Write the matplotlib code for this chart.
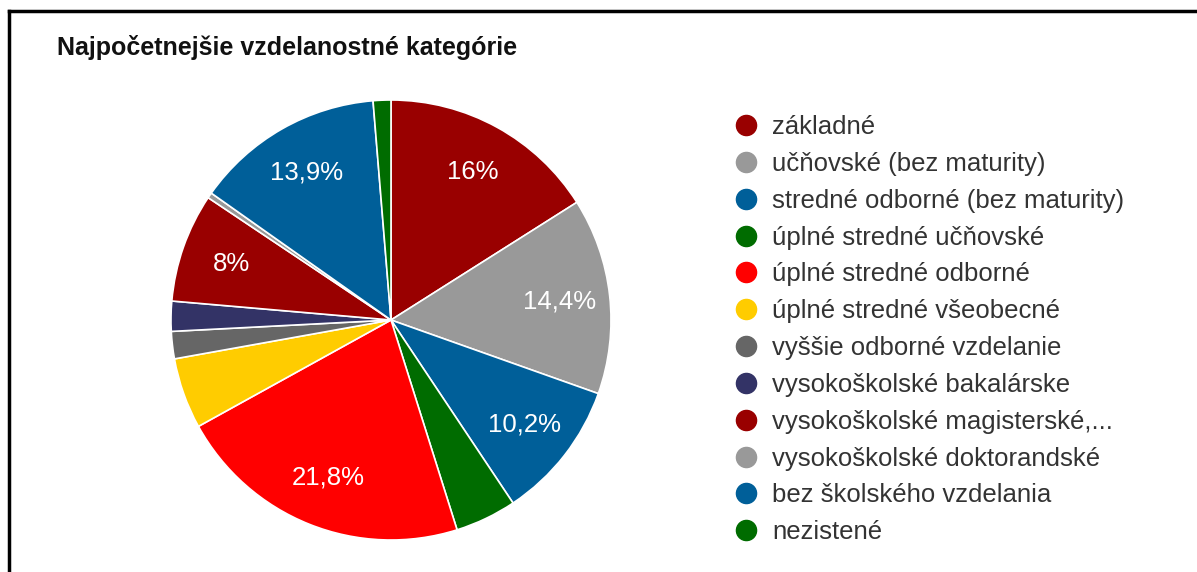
import matplotlib.pyplot as plt
from matplotlib.lines import Line2D

plt.rcParams['font.family'] = ['Liberation Sans', 'DejaVu Sans']

# data
categories = ['základné', 'učňovské (bez maturity)', 'stredné odborné (bez maturity)',
              'úplné stredné učňovské', 'úplné stredné odborné', 'úplné stredné všeobecné',
              'vyššie odborné vzdelanie', 'vysokoškolské bakalárske',
              'vysokoškolské magisterské,...', 'vysokoškolské doktorandské',
              'bez školského vzdelania', 'nezistené']
values = [16.0, 14.4, 10.2, 4.5, 21.8, 5.2, 2.0, 2.2, 8.0, 0.4, 13.9, 1.3]
colors = ['#990000', '#999999', '#005f99', '#006c00', '#ff0000', '#ffcc00',
          '#666666', '#333366', '#990000', '#999999', '#005f99', '#006c00']

W, H = 1197, 572
fig = plt.figure(figsize=(W / 100, H / 100), dpi=100)

# pie axes: centre (391, 320), radius 220 px
cx, cy, r = 391, 320, 220
ax = fig.add_axes([(cx - r) / W, (H - cy - r) / H, 2 * r / W, 2 * r / H])


def pct(p):
    if p < 7:
        return ''
    return ('%.1f%%' % p).replace('.0%', '%').replace('.', ',')


wedges, texts, autotexts = ax.pie(values, colors=colors, startangle=90, counterclock=False,
                                  autopct=pct, pctdistance=0.77,
                                  wedgeprops=dict(edgecolor='white', linewidth=1.2),
                                  textprops=dict(color='white', fontsize=18.5))
ax.set_xlim(-1, 1)
ax.set_ylim(-1, 1)
ax.set_aspect('equal')

# title
fig.text(57 / W, 1 - 47 / H, 'Najpočetnejšie vzdelanostné kategórie', fontsize=18,
         fontweight='bold', color='#111111', va='center', ha='left')

# legend
handles = [Line2D([], [], marker='o', ls='', color=c, markersize=14.5) for c in colors]
fig.legend(handles, categories, loc='upper left', bbox_to_anchor=(736 / W, 1 - 115 / H),
           frameon=False, fontsize=18.5, labelspacing=0.5, handlelength=0.75,
           handletextpad=0.65, borderpad=0, borderaxespad=0, labelcolor='#333333')

# frame lines (top and left)
fig.add_artist(Line2D([9 / W, 1], [1 - 11 / H, 1 - 11 / H], color='black', lw=2.5,
                      transform=fig.transFigure))
fig.add_artist(Line2D([9 / W, 9 / W], [0, 1 - 11 / H], color='black', lw=2.5,
                      transform=fig.transFigure))

fig.savefig('out.png', dpi=100)
